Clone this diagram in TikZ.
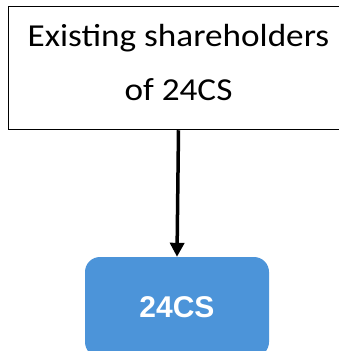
\documentclass[tikz,border=0pt]{standalone}
\usepackage{fontspec}
\usetikzlibrary{arrows.meta}
\newfontfamily\holderfont[FakeStretch=1.1]{Carlito}
\newfontfamily\boxfont{Liberation Sans}
\definecolor{boxblue}{HTML}{4C94D9}

\begin{document}
\begin{tikzpicture}[x=1pt,y=-1pt,
        holder/.style={draw=black,line width=1.5pt,minimum width=340pt,minimum height=123pt,
          text depth=11pt,align=center,font=\holderfont\fontsize{32}{54}\selectfont},
        company/.style={fill=boxblue,rounded corners=15pt,minimum width=184pt,minimum height=100pt,
          text=white,font=\boxfont\bfseries\fontsize{30}{36}\selectfont}]
      \useasboundingbox (0,0) rectangle (339,351);
      \node[holder] (holders) at (178.5,68) {Existing shareholders\\of 24CS}; %股东
      \node[company] (cs) at (177,307) {24CS};
      \draw[-{Triangle[length=14pt,width=14pt]},line width=3.5pt] (holders.south) -- (cs.north);
\end{tikzpicture}
\end{document}
